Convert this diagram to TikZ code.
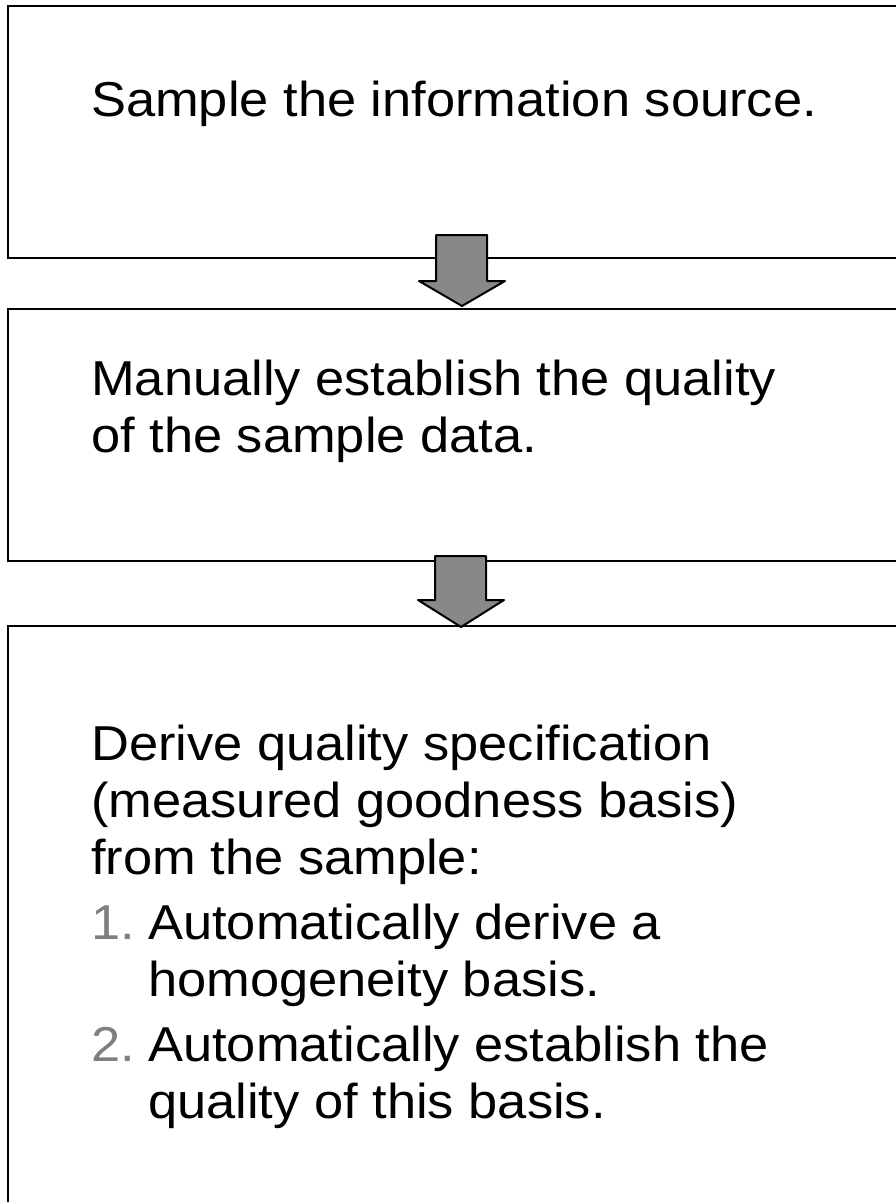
\documentclass[tikz,border=0pt]{standalone}
\usepackage{fontspec}
\setmainfont{Liberation Sans}[FakeStretch=1.07]
\definecolor{numgray}{HTML}{7F7F7F}
\definecolor{arrowfill}{HTML}{888888}
\begin{document}
\begin{tikzpicture}[x=1pt,y=-1pt,
  box/.style={draw=black, line width=2pt, fill=none},
  txt/.style={anchor=base west, inner sep=0pt, align=left, font=\fontsize{49}{57}\selectfont},
  blockarrow/.style={draw=black, line width=2pt, line join=round, fill=arrowfill}]
\useasboundingbox (0,0) rectangle (896,1202);
\clip (0,0) rectangle (896,1202);
\fill[white] (0,0) rectangle (896,1202);
% boxes
\node[box, anchor=north west, minimum width=910pt, minimum height=252pt, inner sep=0pt] (b1) at (7,5) {};
\node[box, anchor=north west, minimum width=910pt, minimum height=252pt, inner sep=0pt] (b2) at (7,308) {};
\node[box, anchor=north west, minimum width=910pt, minimum height=600pt, inner sep=0pt] (b3) at (7,625) {};
% texts (base anchor = baseline of the last line)
\node[txt] (t1) at (91,116) {Sample the information source.};
\node[txt] (t2) at (91,452) {Manually establish the quality\\of the sample data.};
\node[txt] (t3) at (91,1118) {Derive quality specification\\(measured goodness basis)\\from the sample:\\[8pt]
\makebox[57pt][l]{\color{numgray}1.}Automatically derive a\\\hspace*{57pt}homogeneity basis.\\[8pt]
\makebox[57pt][l]{\color{numgray}2.}Automatically establish the\\\hspace*{57pt}quality of this basis.};
% block arrows
\draw[blockarrow] (436,235) -- (487,235) -- (487,281) -- (505,281) -- (462,306) -- (419,281) -- (436,281) -- cycle;
\draw[blockarrow] (435,556) -- (486,556) -- (486,600) -- (504,600) -- (461,627) -- (418,600) -- (435,600) -- cycle;
\end{tikzpicture}
\end{document}
